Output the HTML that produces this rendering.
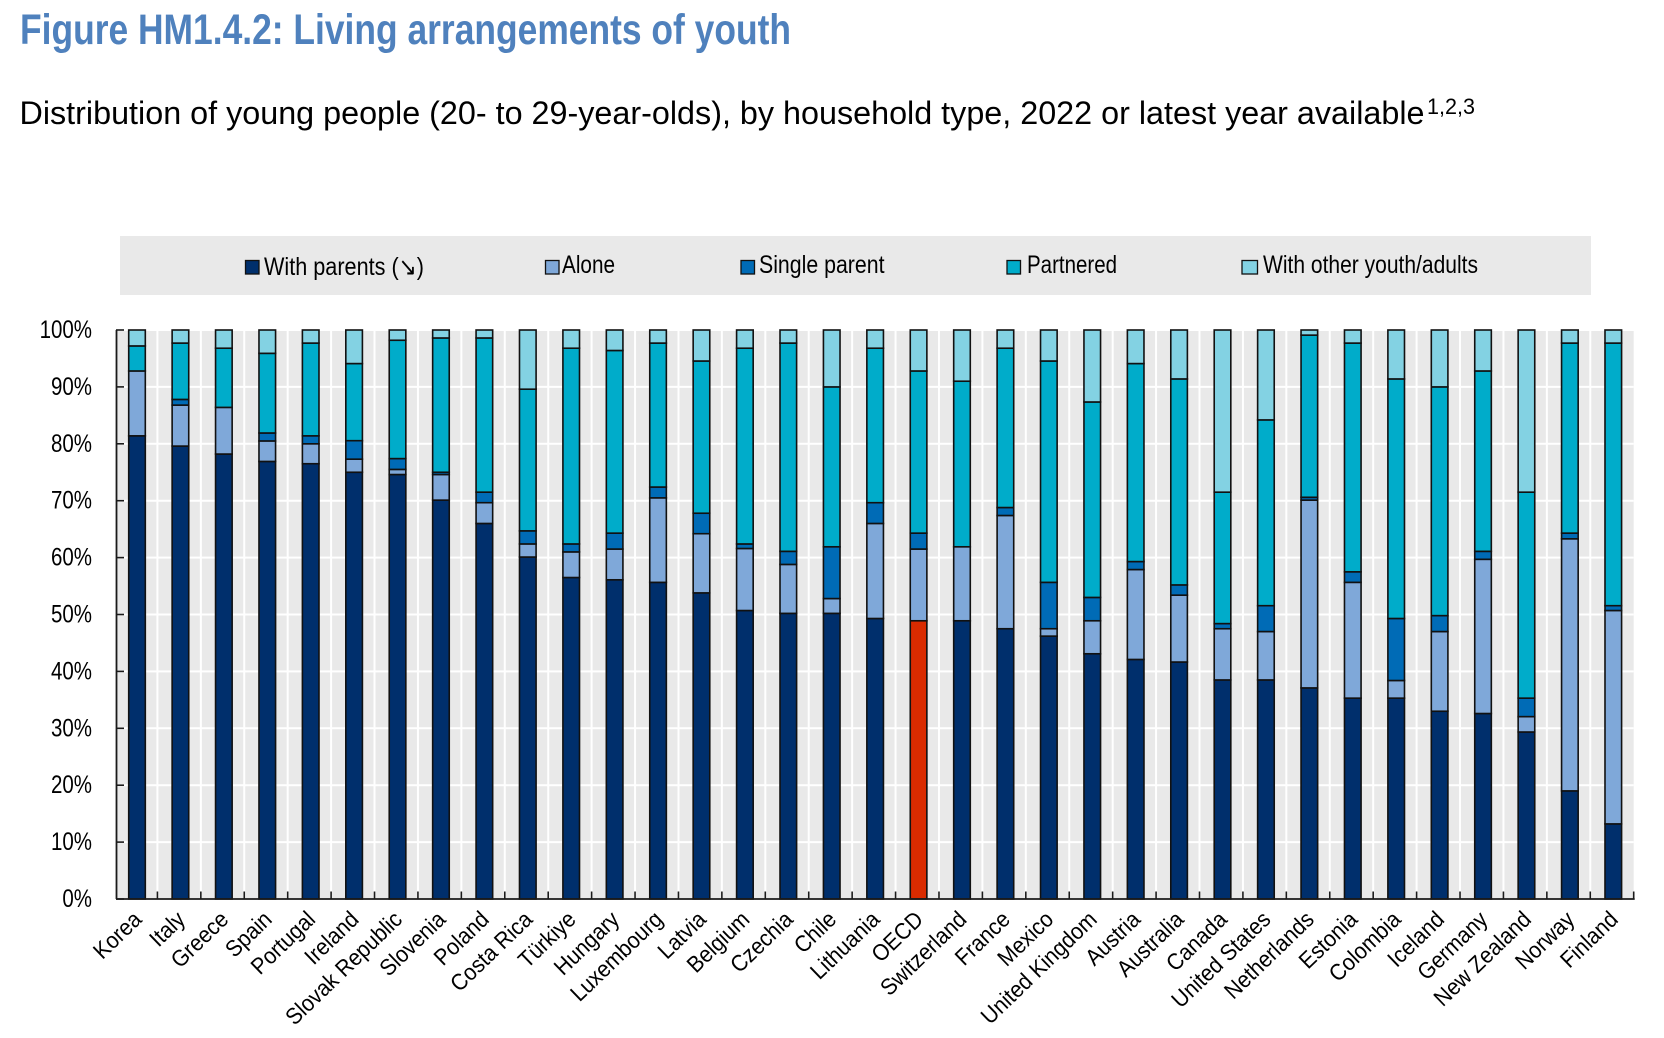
<!DOCTYPE html>
<html lang="en">
<head>
<meta charset="utf-8">
<title>Figure HM1.4.2: Living arrangements of youth</title>
<style>
html,body{margin:0;padding:0;background:#fff;width:1664px;height:1038px;overflow:hidden}
svg{display:block}
text{font-family:"Liberation Sans","DejaVu Sans",sans-serif;fill:#000}
</style>
</head>
<body>
<svg id="chart" xmlns="http://www.w3.org/2000/svg" width="1664" height="1038" viewBox="0 0 1664 1038">
  <text x="20" y="44" font-size="43" font-weight="bold" style="fill:#4f81bd" textLength="771" lengthAdjust="spacingAndGlyphs">Figure HM1.4.2: Living arrangements of youth</text>
  <text x="19.5" y="124" font-size="32" textLength="1405" lengthAdjust="spacingAndGlyphs">Distribution of young people (20- to 29-year-olds), by household type, 2022 or latest year available</text>
  <text x="1427" y="114" font-size="22" textLength="48" lengthAdjust="spacingAndGlyphs">1,2,3</text>

  <g>
    <rect x="120" y="236" width="1471" height="59" fill="#e9e9e9"/>
    <g>
      <rect x="245.5" y="260.5" width="13.5" height="13.5" fill="#002f6c" stroke="#111" stroke-width="1.3"/>
      <text x="264" y="275" font-size="25" textLength="160" lengthAdjust="spacingAndGlyphs">With parents (↘)</text>
    </g>
    <g>
      <rect x="545.5" y="260.5" width="13.5" height="13.5" fill="#7fa8d9" stroke="#111" stroke-width="1.3"/>
      <text x="562" y="273" font-size="25" textLength="53" lengthAdjust="spacingAndGlyphs">Alone</text>
    </g>
    <g>
      <rect x="741" y="260.5" width="13.5" height="13.5" fill="#006bb6" stroke="#111" stroke-width="1.3"/>
      <text x="759" y="273" font-size="25" textLength="125.5" lengthAdjust="spacingAndGlyphs">Single parent</text>
    </g>
    <g>
      <rect x="1007" y="260.5" width="13.5" height="13.5" fill="#00acca" stroke="#111" stroke-width="1.3"/>
      <text x="1027" y="273" font-size="25" textLength="90" lengthAdjust="spacingAndGlyphs">Partnered</text>
    </g>
    <g>
      <rect x="1242" y="260.5" width="15.5" height="13.5" fill="#83d2e3" stroke="#111" stroke-width="1.3"/>
      <text x="1263" y="273" font-size="25" textLength="215" lengthAdjust="spacingAndGlyphs">With other youth/adults</text>
    </g>
  </g>
  <g id="plot"></g>
</svg>
<script>
const categories = ["Korea","Italy","Greece","Spain","Portugal","Ireland","Slovak Republic","Slovenia","Poland","Costa Rica","Türkiye","Hungary","Luxembourg","Latvia","Belgium","Czechia","Chile","Lithuania","OECD","Switzerland","France","Mexico","United Kingdom","Austria","Australia","Canada","United States","Netherlands","Estonia","Colombia","Iceland","Germany","New Zealand","Norway","Finland"];
const withParents = [81.4,79.6,78.2,76.9,76.5,75.0,74.6,70.1,66.0,60.1,56.5,56.1,55.65,53.8,50.7,50.2,50.2,49.3,48.9,48.9,47.5,46.2,43.1,42.1,41.65,38.5,38.5,37.1,35.3,35.3,33.0,32.6,29.35,19.0,13.2];
const alone = [11.4,7.2,8.2,3.6,3.5,2.3,0.9,4.5,3.65,2.3,4.5,5.4,14.85,10.4,10.9,8.6,2.6,16.7,12.6,13.0,19.9,1.3,5.8,15.8,11.75,9.0,8.5,33.0,20.35,3.1,14.0,27.1,2.7,44.3,37.5];
const singleParent = [0,1.0,0,1.4,1.4,3.25,1.9,0.4,1.85,2.3,1.4,2.8,1.9,3.6,0.8,2.3,9.1,3.65,2.8,0,1.4,8.15,4.1,1.4,1.8,0.9,4.55,0.5,1.85,10.9,2.8,1.4,3.25,1.0,0.85];
const partnered = [4.4,9.9,10.4,14.0,16.3,13.55,20.8,23.6,27.1,24.9,34.4,32.1,25.3,26.75,34.4,36.6,28.1,27.15,28.5,29.1,28.0,38.9,34.35,34.8,36.2,23.1,32.65,28.5,40.2,42.1,40.2,31.7,36.2,33.4,46.15];
const withOther = [2.8,2.3,3.2,4.1,2.3,5.9,1.8,1.4,1.4,10.4,3.2,3.6,2.3,5.45,3.2,2.3,10.0,3.2,7.2,9.0,3.2,5.45,12.65,5.9,8.6,28.5,15.8,0.9,2.3,8.6,10.0,7.2,28.5,2.3,2.3];
const yTickValues = [0,10,20,30,40,50,60,70,80,90,100];
const highlightCategory = "OECD";

const SVG_NS = "http://www.w3.org/2000/svg";
const plot = document.getElementById("plot");
const plotTop = 330, plotBottom = 899, bandStart = 114, bandStep = 43.42, barWidth = 16.6;
const yScale = v => plotBottom - (v / 100) * (plotBottom - plotTop);
const bandEdge = k => bandStart + k * bandStep;
const xCenter = i => bandEdge(i) + bandStep / 2 + 1.3;
const plotRight = bandEdge(categories.length);

function add(tag, attrs, parent) {
  const el = document.createElementNS(SVG_NS, tag);
  for (const key in attrs) el.setAttribute(key, attrs[key]);
  (parent || plot).appendChild(el);
  return el;
}

const bg = add("rect", {x: 116, y: plotTop + 1, width: plotRight - 116, height: plotBottom - plotTop - 1, fill: "#e9e9e9"});



yTickValues.forEach(v => {
  if (v === 0 || v === 100) return;
  const g = add("line", {x1: 116, x2: plotRight, y1: yScale(v), y2: yScale(v), stroke: "#fff", "stroke-width": 2});
  
  
});
categories.forEach((c, i) => {
  if (i === categories.length - 1) return;
  const g = add("line", {x1: bandEdge(i + 1), x2: bandEdge(i + 1), y1: plotTop + 1, y2: plotBottom, stroke: "#fff", "stroke-width": 2});
  
  
});

const seriesList = [
  {key: "with-parents", values: withParents, color: "#002f6c"},
  {key: "alone", values: alone, color: "#7fa8d9"},
  {key: "single-parent", values: singleParent, color: "#006bb6"},
  {key: "partnered", values: partnered, color: "#00acca"},
  {key: "with-other", values: withOther, color: "#83d2e3"}
];

categories.forEach((cat, i) => {
  let cum = 0;
  seriesList.forEach((s, si) => {
    const v = s.values[i];
    if (v > 0) {
      const top = yScale(cum + v), bottom = yScale(cum);
      const fill = (si === 0 && cat === highlightCategory) ? "#d92b00" : s.color;
      const r = add("rect", {x: xCenter(i) - barWidth / 2, y: top, width: barWidth, height: bottom - top, fill: fill, stroke: "#111", "stroke-width": 1.6});
      
      
    }
    cum += v;
  });
});

const yAxis = add("line", {x1: 116.5, x2: 116.5, y1: plotTop, y2: plotBottom, stroke: "#1a1a1a", "stroke-width": 1.8});


const xAxis = add("line", {x1: 116, x2: plotRight + 1, y1: plotBottom, y2: plotBottom, stroke: "#1a1a1a", "stroke-width": 1.8});



yTickValues.forEach(v => {
  const y = yScale(v);
  const t = add("line", {x1: 116, x2: 124, y1: y, y2: y, stroke: "#1a1a1a", "stroke-width": 1.6});
  
  
  const l = add("text", {transform: "translate(92," + (y + 8) + ") scale(.82,1)", "text-anchor": "end", "font-size": 25});
  l.textContent = v + "%";
  
  
});

categories.forEach((cat, i) => {
  const tx = bandEdge(i + 1);
  const t = add("line", {x1: tx, x2: tx, y1: plotBottom - 7.5, y2: plotBottom, stroke: "#1a1a1a", "stroke-width": 1.6});
  
  
  const l = add("text", {transform: "translate(" + (xCenter(i) + 6) + ",921) rotate(-44) scale(.92,1)", "text-anchor": "end", "font-size": 23});
  l.textContent = cat;
  
  
});
</script>
</body>
</html>
